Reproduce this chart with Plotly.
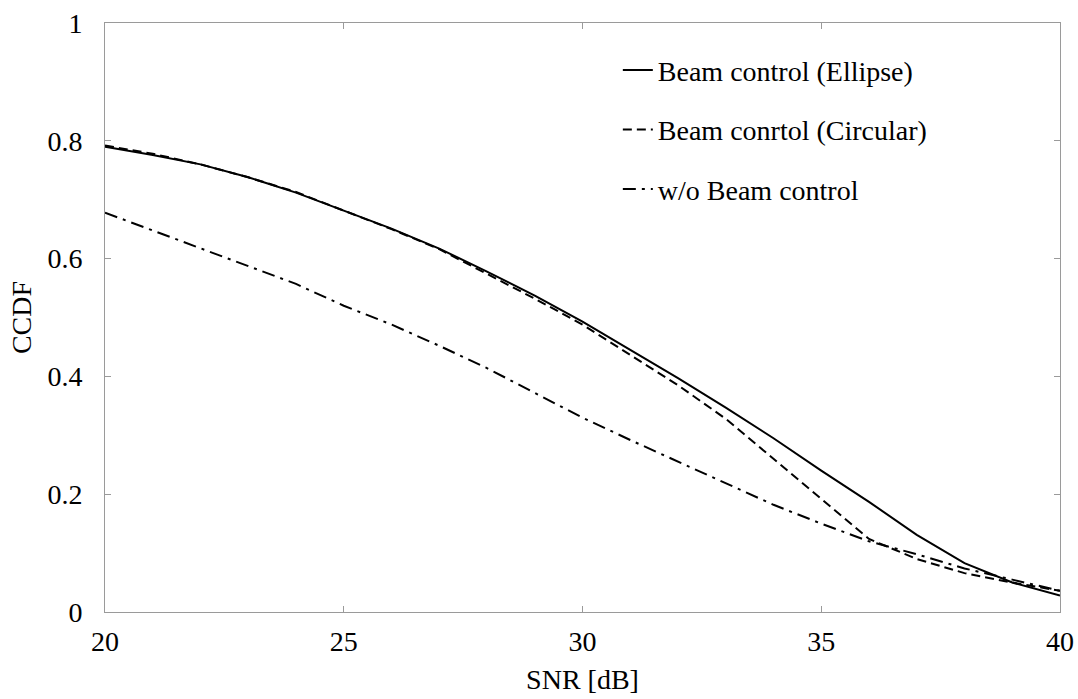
import plotly.graph_objects as go

snr = [20, 21, 22, 23, 24, 25, 26, 27, 28, 29, 30, 31, 32, 33, 34, 35, 36, 37, 38, 39, 40]
ellipse = [0.790, 0.776, 0.760, 0.738, 0.712, 0.682, 0.651, 0.617, 0.578, 0.537, 0.493,
           0.445, 0.397, 0.347, 0.295, 0.240, 0.187, 0.131, 0.083, 0.050, 0.028]
circular = [0.792, 0.778, 0.760, 0.738, 0.713, 0.682, 0.650, 0.616, 0.574, 0.532, 0.488,
            0.437, 0.385, 0.328, 0.260, 0.192, 0.124, 0.090, 0.066, 0.050, 0.036]
without = [0.678, 0.648, 0.618, 0.588, 0.557, 0.520, 0.488, 0.452, 0.414, 0.372, 0.330,
           0.292, 0.255, 0.218, 0.182, 0.150, 0.120, 0.098, 0.074, 0.055, 0.036]

names = ["Beam control (Ellipse)", "Beam conrtol (Circular)", "w/o Beam control"]
dashes = ["solid", "9px,5px", "13px,6px,3px,6px"]
series = [ellipse, circular, without]

fig = go.Figure()
for i, (nm, ys, d) in enumerate(zip(names, series, dashes)):
    fig.add_trace(go.Scatter(x=snr, y=ys, mode="lines", name=nm, legendgroup=f"g{i}",
                             line=dict(color="black", width=2, dash=d)))

font = "'Liberation Serif', 'Times New Roman', serif"
fs = 28
axcol = "#9a9a9a"
fig.update_layout(
    width=1078, height=699,
    margin=dict(l=105, r=18, t=23, b=87),
    paper_bgcolor="white", plot_bgcolor="white",
    font=dict(family=font, size=fs, color="black"),
    showlegend=True,
    legend=dict(x=0.537, y=0.962, xanchor="left", yanchor="top",
                bgcolor="rgba(0,0,0,0)", tracegroupgap=20,
                font=dict(family=font, size=fs, color="black")),
    xaxis=dict(range=[20, 40], tickvals=[20, 25, 30, 35, 40], showgrid=False, zeroline=False,
               showline=True, linecolor=axcol, linewidth=1, mirror="ticks",
               ticks="inside", ticklen=6, tickcolor=axcol, automargin=False,
               ticklabelstandoff=4,
               title=dict(text="SNR [dB]", font=dict(family=font, size=fs), standoff=13),
               tickfont=dict(family=font, size=fs)),
    yaxis=dict(range=[0, 1], tickvals=[0, 0.2, 0.4, 0.6, 0.8, 1],
               ticktext=["0", "0.2", "0.4", "0.6", "0.8", "1"], showgrid=False, zeroline=False,
               showline=True, linecolor=axcol, linewidth=1, mirror="ticks",
               ticks="inside", ticklen=6, tickcolor=axcol, automargin=False,
               ticklabelstandoff=16,
               title=dict(text="CCDF", font=dict(family=font, size=fs), standoff=7),
               tickfont=dict(family=font, size=fs)),
)

fig.write_html("out.html")
